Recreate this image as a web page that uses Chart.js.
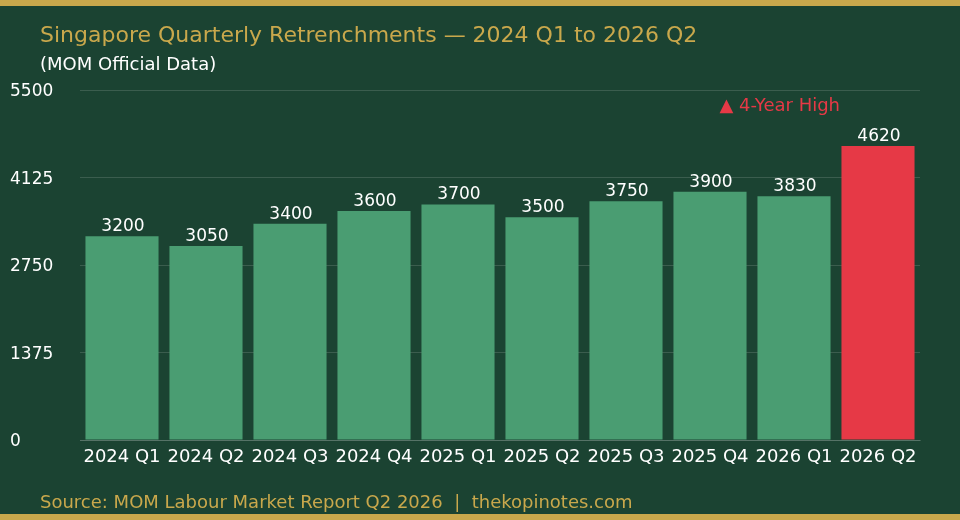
<!DOCTYPE html>
<html>
<head>
<meta charset="utf-8">
<script src="https://cdn.jsdelivr.net/npm/chart.js@4"></script>
<style>
  html, body { margin: 0; padding: 0; background: #1b4332; }
  #wrap { width: 960px; height: 520px; position: relative; }
</style>
</head>
<body>
<div id="wrap"><canvas id="retrenchChart"></canvas></div>
<script>
/* ==================== DATA ==================== */
const quarters = ["2024 Q1", "2024 Q2", "2024 Q3", "2024 Q4", "2025 Q1",
                  "2025 Q2", "2025 Q3", "2025 Q4", "2026 Q1", "2026 Q2"];
const retrenchments = [3200, 3050, 3400, 3600, 3700, 3500, 3750, 3900, 3830, 4620];
const yTicks = [0, 1375, 2750, 4125, 5500];

const titleText = "Singapore Quarterly Retrenchments \u2014 2024 Q1 to 2026 Q2";
const subtitleText = "(MOM Official Data)";
const sourceText = "Source: MOM Labour Market Report Q2 2026  |  thekopinotes.com";
const noteText = "\u25B2 4-Year High";

/* ==================== COLOURS ==================== */
const BG = "#1b4332";
const GOLD = "#c9a84c";
const GREEN = "#4a9d72";
const RED = "#e63946";
const FONT = "'DejaVu Sans', sans-serif";

const lastIdx = retrenchments.length - 1;

/* ==================== DECOR PLUGIN ==================== */
const decor = {
  id: "decor",
  beforeDraw(chart) {
    const c = chart.ctx;
    c.save();
    c.fillStyle = BG;
    c.fillRect(0, 0, chart.width, chart.height);
    c.fillStyle = GOLD;
    c.fillRect(0, 0, chart.width, 6);
    c.fillRect(0, chart.height - 6, chart.width, 6);
    c.restore();
  },
  afterDraw(chart) {
    const c = chart.ctx;
    c.save();
    c.textAlign = "left";
    c.textBaseline = "middle";
    c.fillStyle = GOLD;
    c.font = "22px " + FONT;
    c.fillText(titleText, 40, 36);
    c.fillStyle = "#ffffff";
    c.font = "18px " + FONT;
    c.fillText(subtitleText, 40, 65);
    c.fillStyle = GOLD;
    c.fillText(sourceText, 40, 503);

    // annotation
    c.fillStyle = RED;
    c.textAlign = "right";
    c.fillText(noteText, 840, 106);

    // value labels
    const meta = chart.getDatasetMeta(0);
    c.font = "17px " + FONT;
    c.textAlign = "center";
    c.textBaseline = "bottom";
    c.fillStyle = "#ffffff";
    meta.data.forEach((bar, i) => {
      c.fillText(String(retrenchments[i]), bar.x + 1, bar.y - 1);
    });
    c.restore();
  }
};

/* ==================== CHART ==================== */
new Chart(document.getElementById("retrenchChart"), {
  type: "bar",
  data: {
    labels: quarters,
    datasets: [{
      data: retrenchments,
      backgroundColor: retrenchments.map((v, i) => i === lastIdx ? RED : GREEN),
      borderWidth: 0,
      categoryPercentage: 1,
      barPercentage: 0.87
    }]
  },
  options: {
    responsive: true,
    maintainAspectRatio: false,
    animation: false,
    devicePixelRatio: 1,
    layout: { padding: { left: 10, right: 40, top: 90, bottom: 44 } },
    plugins: { legend: { display: false }, tooltip: { enabled: false } },
    scales: {
      x: {
        grid: { display: false, drawTicks: false },
        border: { display: true, color: "rgba(255,255,255,0.14)" },
        ticks: { color: "#ffffff", font: { family: FONT, size: 18 }, padding: 7, maxRotation: 0, autoSkip: false },
        afterFit(s) { s.height = 36; }
      },
      y: {
        min: 0,
        max: 5500,
        afterBuildTicks(s) { s.ticks = yTicks.map(v => ({ value: v })); },
        grid: { color: "rgba(255,255,255,0.14)", drawTicks: false },
        border: { display: false },
        ticks: { color: "#ffffff", font: { family: FONT, size: 17 }, crossAlign: "far", padding: 0,
                 labelOffset: 2, callback: v => String(v) },
        afterFit(s) { s.width = 70; }
      }
    }
  },
  plugins: [decor]
});
</script>
</body>
</html>
